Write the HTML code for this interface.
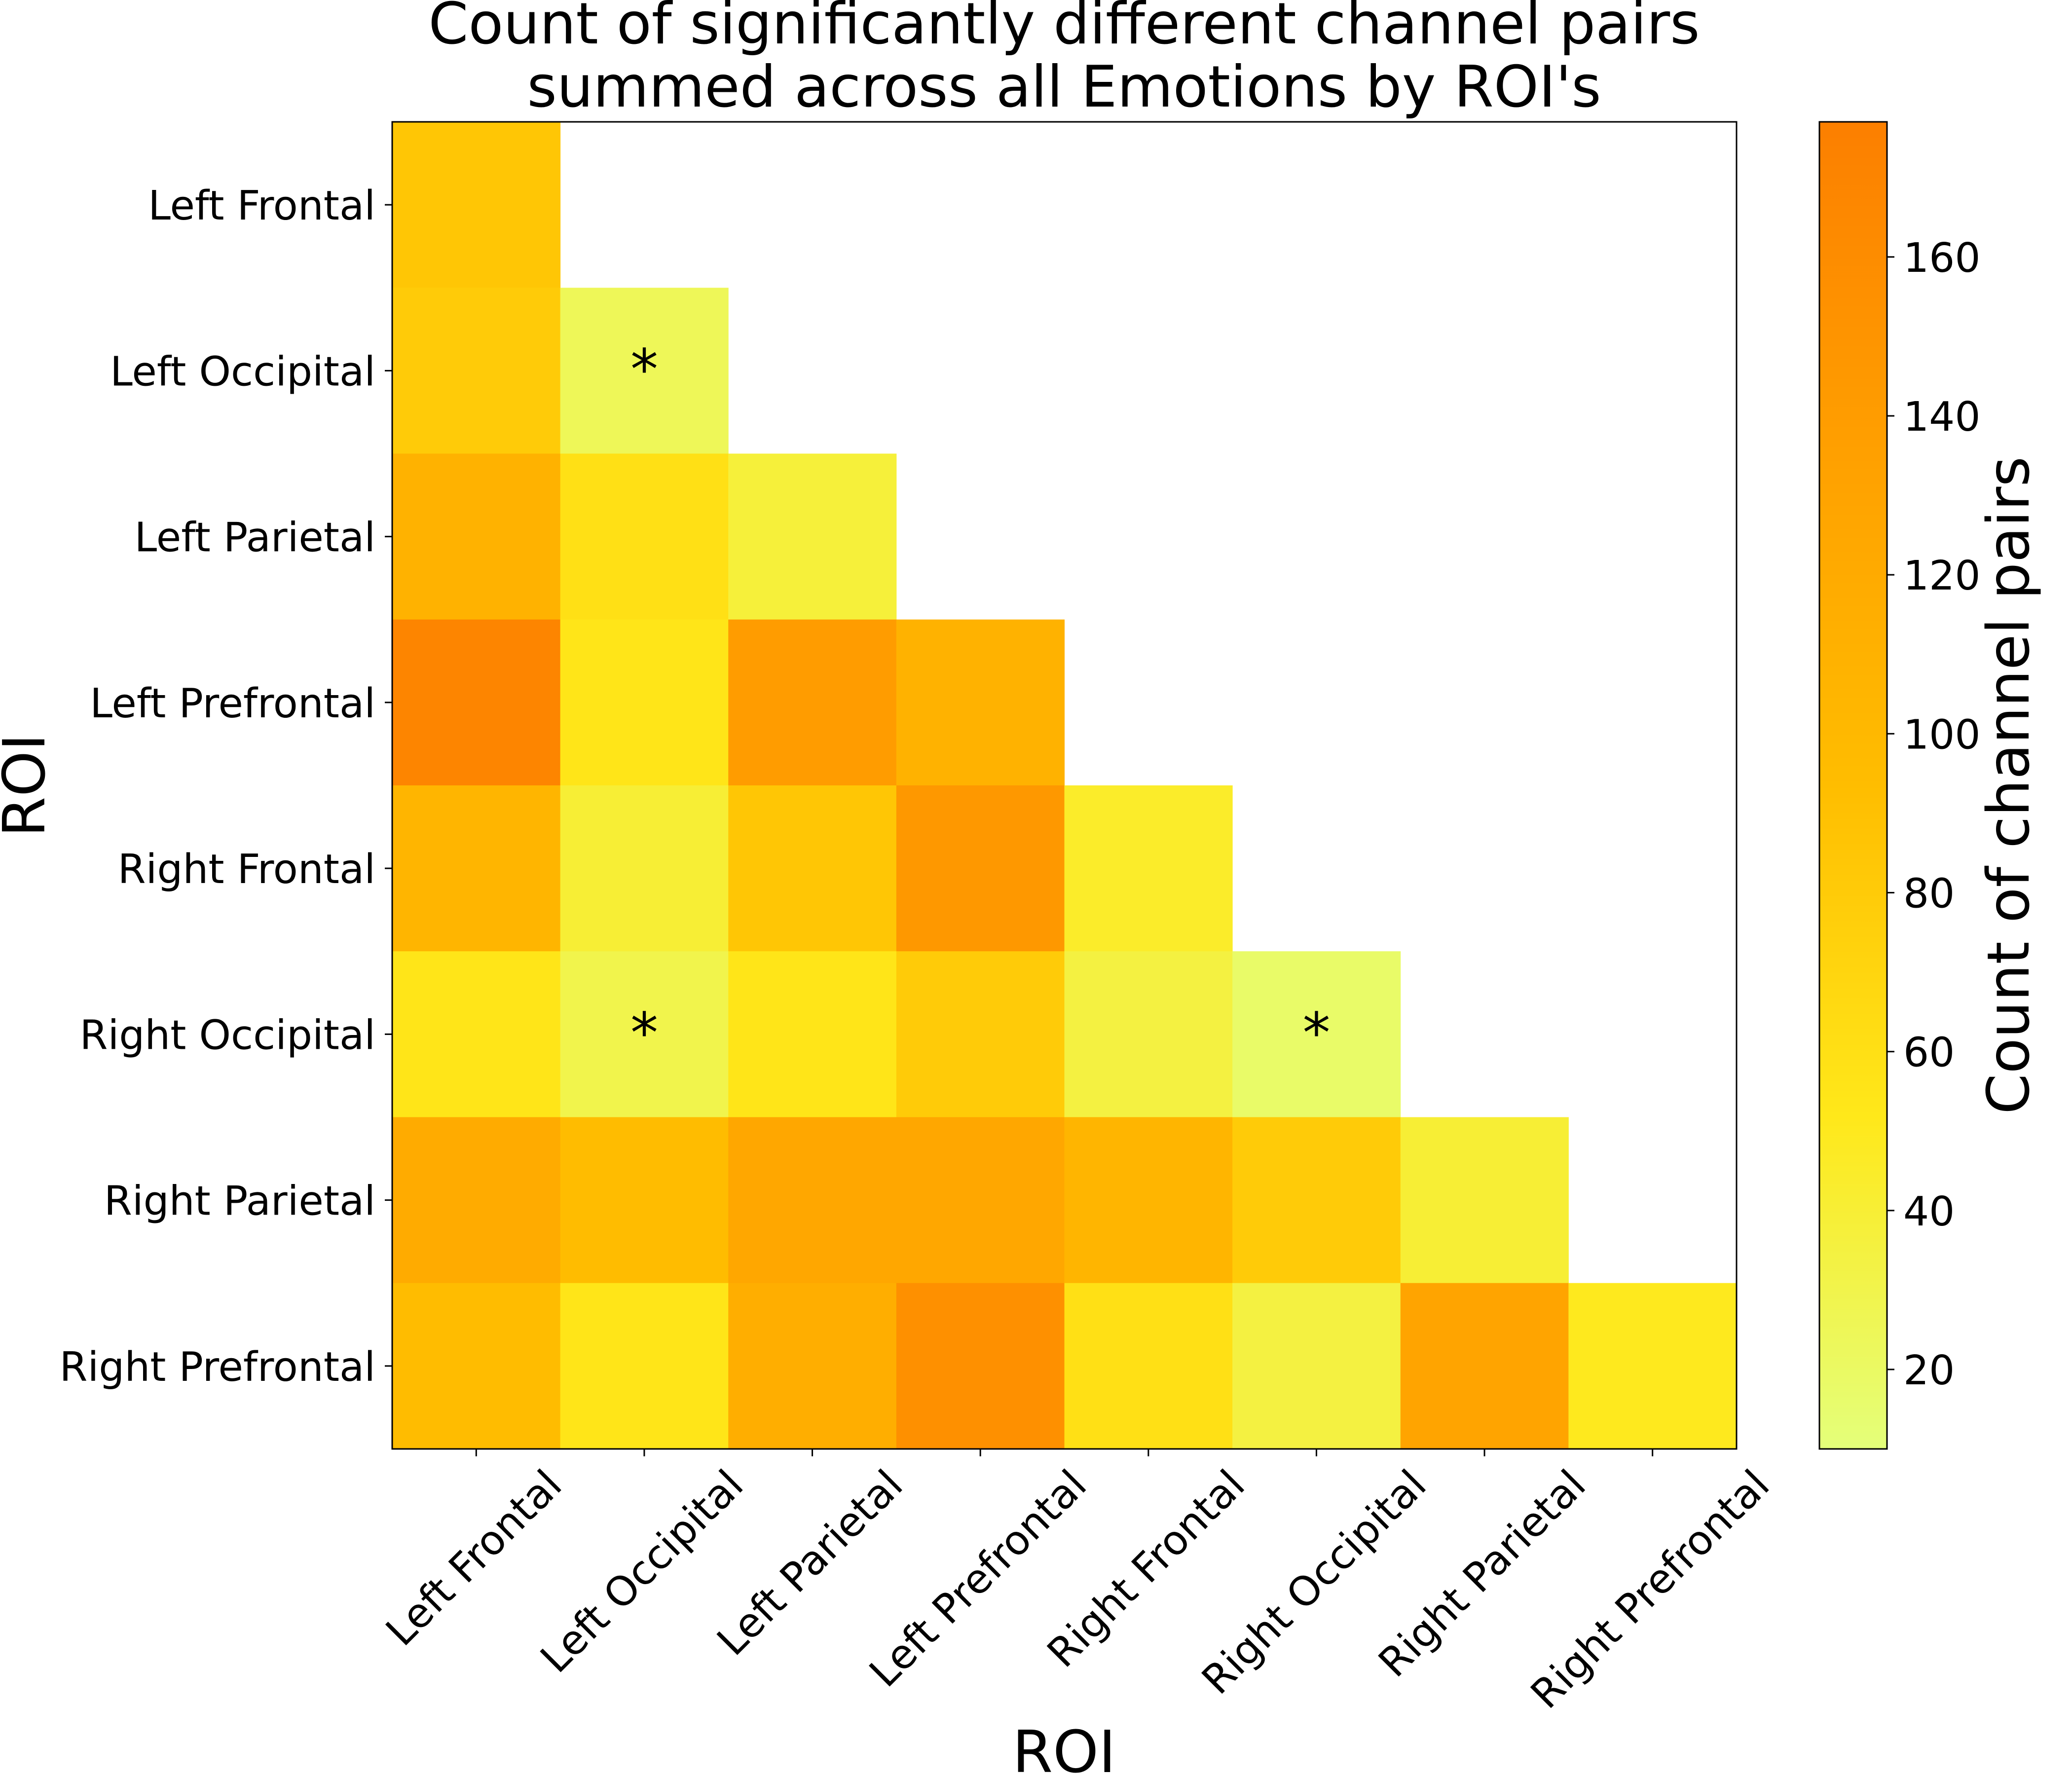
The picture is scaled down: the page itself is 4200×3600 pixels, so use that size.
<!DOCTYPE html>
<html><head><meta charset="utf-8"><style>
html,body{margin:0;padding:0;background:#fff;}
svg{display:block;font-family:"DejaVu Sans","Liberation Sans",sans-serif;}
</style></head><body>
<svg id="chart" width="4200" height="3600" viewBox="0 0 4200 3600">
<g id="title">
<text x="2157" y="88" font-size="116" text-anchor="middle">Count of significantly different channel pairs</text>
<text x="2157" y="216" font-size="116" text-anchor="middle">summed across all Emotions by ROI's</text>
</g>
<g id="cells"></g>
<rect x="795" y="247" width="2725" height="2690" fill="none" stroke="#000" stroke-width="3"/>
<g id="xticks"></g>
<g id="yticks"></g>
<text x="2157" y="3592" font-size="118" text-anchor="middle">ROI</text>
<text transform="translate(90,1592) rotate(-90)" font-size="118" text-anchor="middle">ROI</text>
<defs><linearGradient id="wistia" x1="0" y1="1" x2="0" y2="0">
<stop offset="0" stop-color="rgb(228,255,122)"/><stop offset="0.25" stop-color="rgb(255,232,26)"/>
<stop offset="0.5" stop-color="rgb(255,189,0)"/><stop offset="0.75" stop-color="rgb(255,160,0)"/>
<stop offset="1" stop-color="rgb(252,127,0)"/></linearGradient></defs>
<rect x="3688" y="247" width="137" height="2690" fill="url(#wistia)" stroke="#000" stroke-width="3"/>
<g id="cticks"></g>
<text transform="translate(4112,1592) rotate(-90)" font-size="118" text-anchor="middle">Count of channel pairs</text>
</svg>
<script>
const categories = ["Left Frontal","Left Occipital","Left Parietal","Left Prefrontal","Right Frontal","Right Occipital","Right Parietal","Right Prefrontal"];
const values = [
 [85],
 [80,25],
 [110,60,38],
 [170,55,140,110],
 [105,40,85,145,45],
 [55,30,55,80,35,18],
 [120,95,125,125,105,80,40],
 [95,55,115,155,60,35,130,50]
];
const significant = [[1,1],[5,1],[5,5]];
const colorTicks = [20,40,60,80,100,120,140,160];
const vmin = 10, vmax = 177;

const NS="http://www.w3.org/2000/svg";
const X0=795,Y0=247,W=2725,H=2690,n=categories.length,cw=W/n,ch=H/n;
const xPos=i=>X0+cw*(i+0.5), yPos=i=>Y0+ch*(i+0.5);
const cbY=v=>Y0+H-(v-vmin)/(vmax-vmin)*H;
const cstops=[[0,[228,255,122]],[0.25,[255,232,26]],[0.5,[255,189,0]],[0.75,[255,160,0]],[1,[252,127,0]]];
function color(v){let t=Math.max(0,Math.min(1,(v-vmin)/(vmax-vmin)));
 for(let k=0;k<4;k++){const [a,ca]=cstops[k],[b,cb]=cstops[k+1];
  if(t<=b){const f=(t-a)/(b-a);return `rgb(${ca.map((c,j)=>Math.round(c+(cb[j]-c)*f)).join(',')})`;}}
 return 'rgb(252,127,0)';}
function mk(tag,attrs,parent){const e=document.createElementNS(NS,tag);for(const k in attrs)e.setAttribute(k,attrs[k]);parent.appendChild(e);return e;}
const cells=document.getElementById('cells');
values.forEach((row,r)=>row.forEach((v,c)=>{
 const e=mk('rect',{x:X0+cw*c,y:Y0+ch*r,width:cw+0.5,height:ch+0.5,fill:color(v)},cells);
 
 
}));
significant.forEach(([r,c])=>{
 const t=mk('text',{x:xPos(c),y:yPos(r)+36,'font-size':112,'text-anchor':'middle'},cells);
 t.textContent='*';
 
 
});
const xt=document.getElementById('xticks'),yt=document.getElementById('yticks');
const fs=82;
categories.forEach((name,i)=>{
 const x=xPos(i);
 const l=mk('line',{x1:x,y1:Y0+H,x2:x,y2:Y0+H+15,stroke:'#000','stroke-width':3},xt);
 
 
 const t=mk('text',{'font-size':fs,'text-anchor':'end'},xt);
 t.textContent=name;
 
 
 const w=t.getComputedTextLength(),a=0.76*fs,d=0.24*fs;
 const px=x+0.3535*(w+a+d)-0.707*d, py=Y0+H+34+0.707*a;
 t.setAttribute('transform',`translate(${px},${py}) rotate(-45)`);
 const y=yPos(i);
 const l2=mk('line',{x1:X0,y1:y,x2:X0-15,y2:y,stroke:'#000','stroke-width':3},yt);
 
 
 const t2=mk('text',{x:X0-34,y:y+30,'font-size':fs,'text-anchor':'end'},yt);
 t2.textContent=name;
 
 
});
const ct=document.getElementById('cticks');
colorTicks.forEach(v=>{
 const y=cbY(v);
 const l=mk('line',{x1:3825,y1:y,x2:3840,y2:y,stroke:'#000','stroke-width':3},ct);
 
 
 const t=mk('text',{x:3858,y:y+30,'font-size':fs},ct);
 t.textContent=v;
 
 
});
</script>
</body></html>
